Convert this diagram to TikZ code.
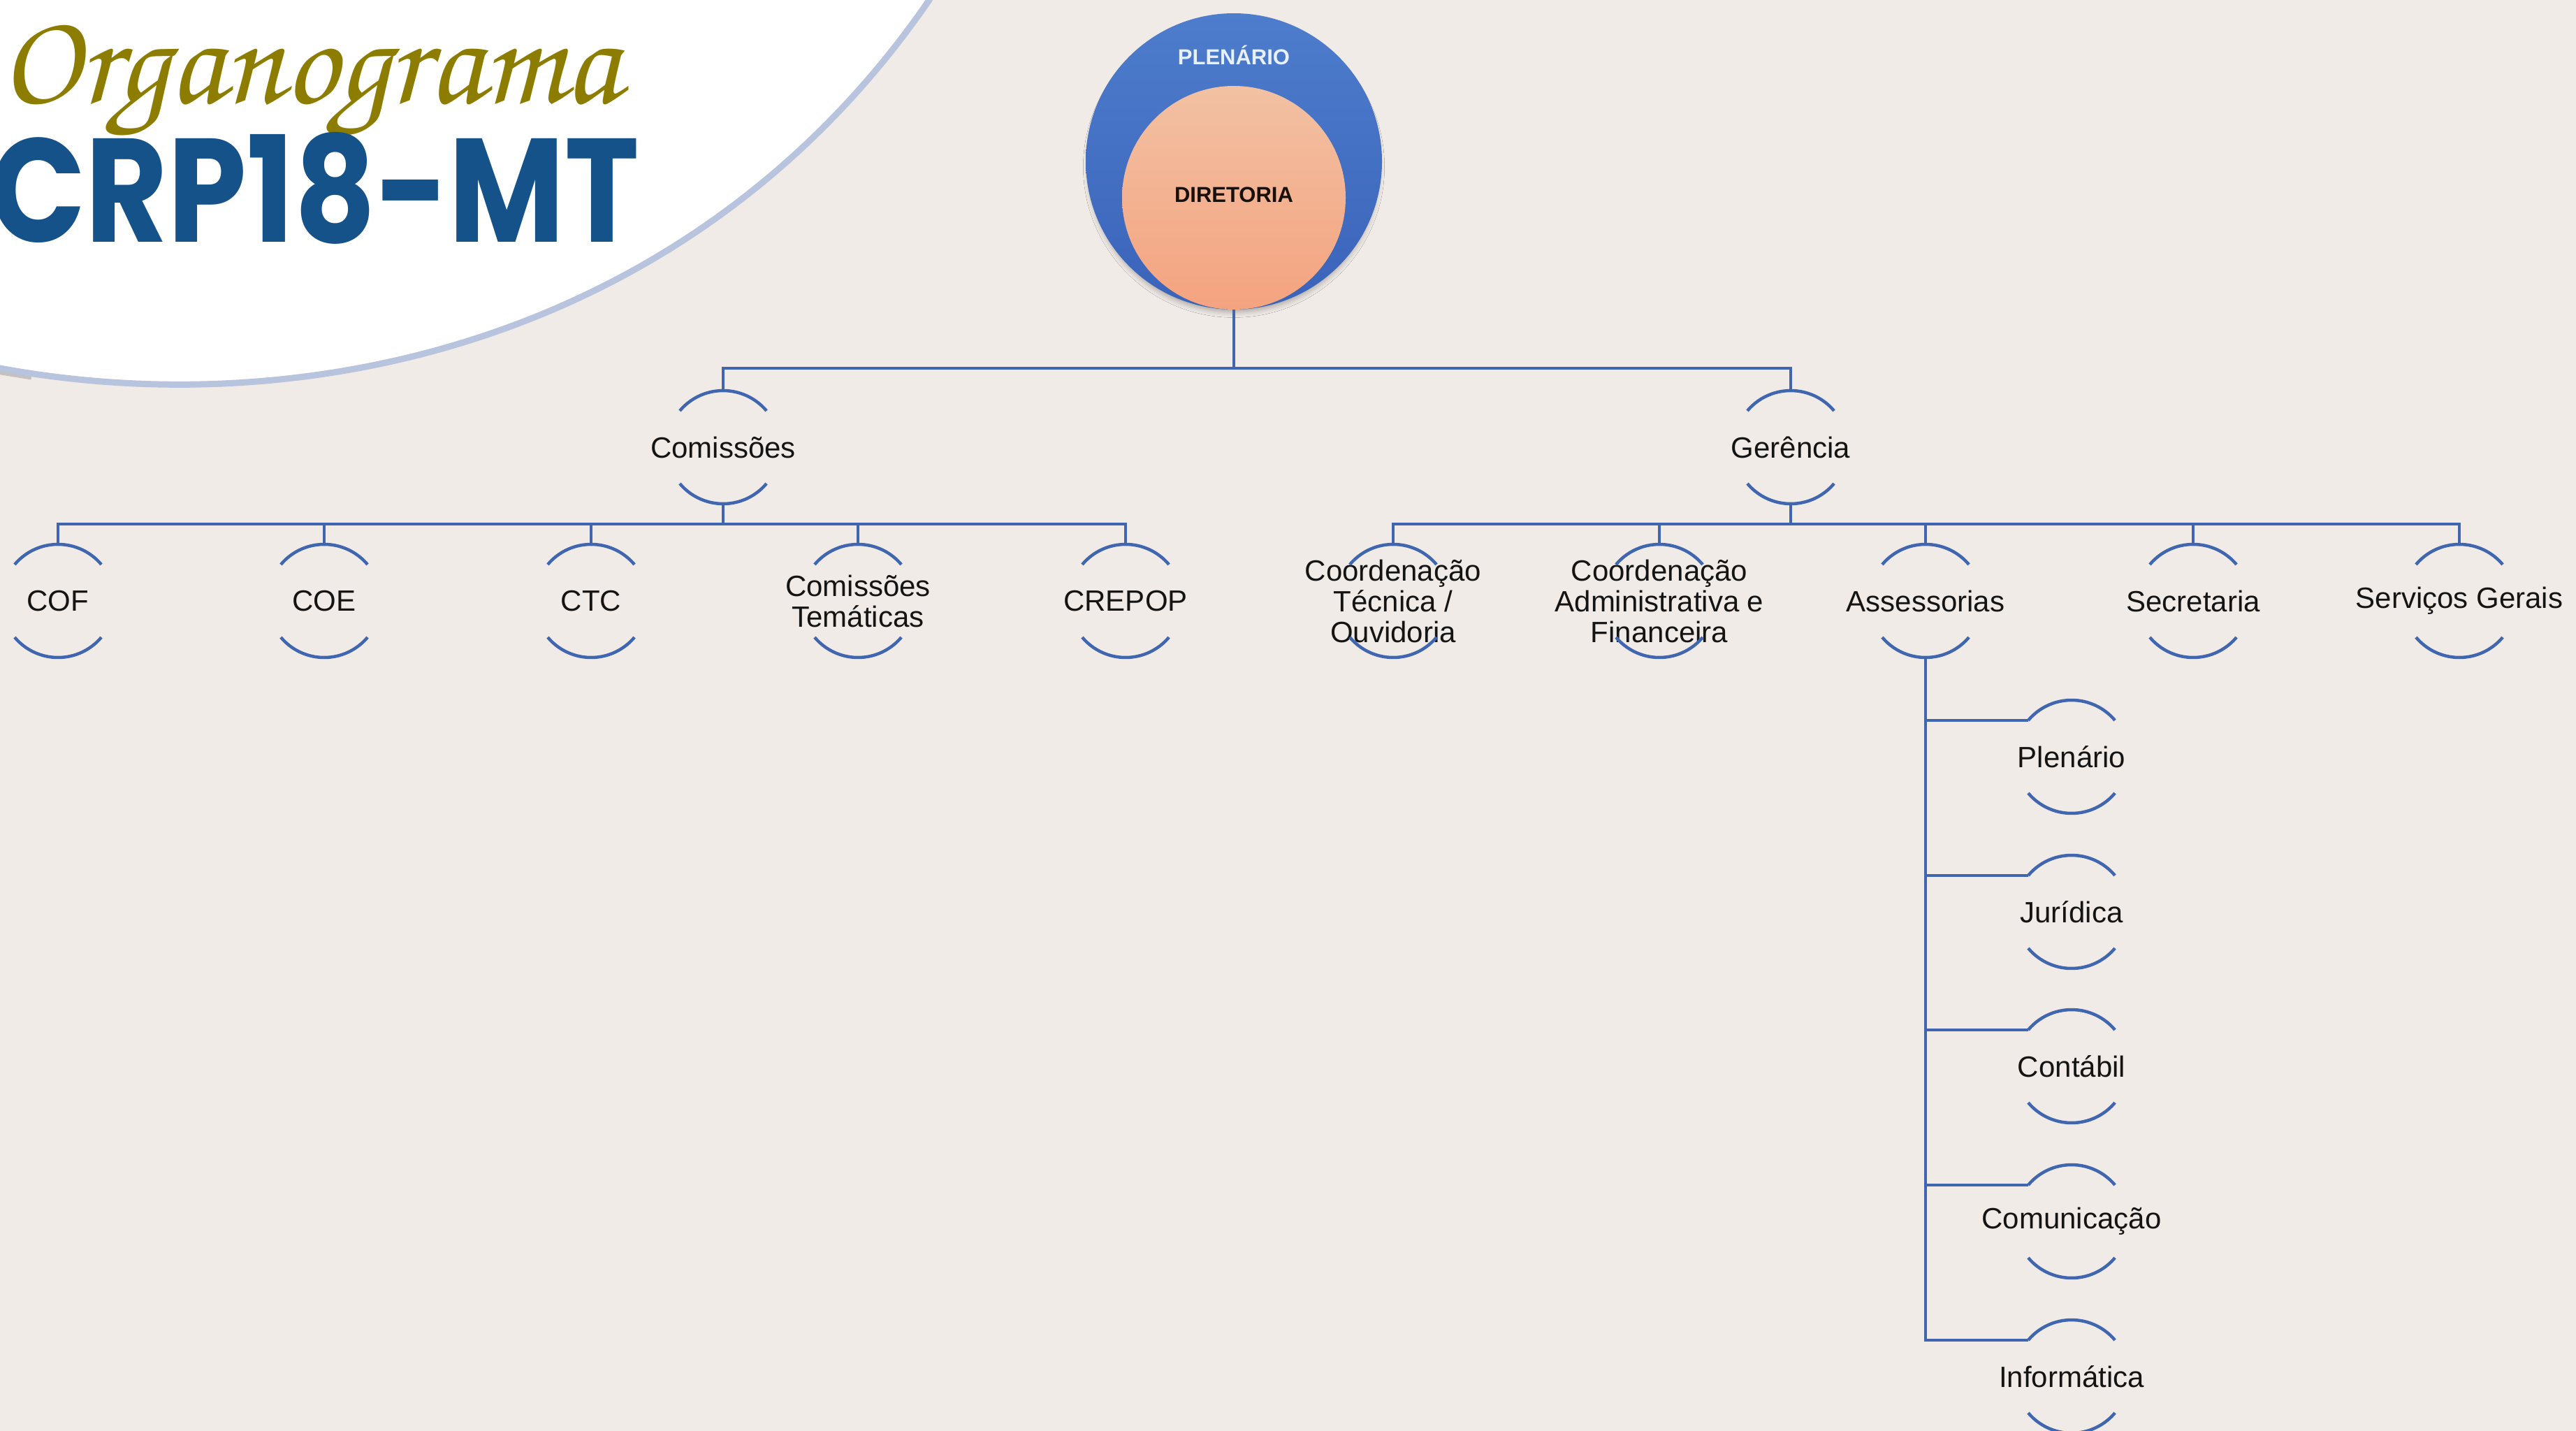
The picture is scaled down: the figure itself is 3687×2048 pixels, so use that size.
\documentclass[tikz,border=0pt]{standalone}
\usepackage{graphicx}
\usepackage{fontspec}
\setmainfont{Liberation Sans}
\newfontfamily\orgfont{TeX Gyre Chorus}
\newfontfamily\crpfont{Poppins}
\usetikzlibrary{calc,shadows.blur}
\definecolor{bg}{HTML}{F0EBE7}
\definecolor{ln}{HTML}{4066B0}
\definecolor{edgec}{HTML}{B8C3DD}
\definecolor{olivec}{HTML}{8C7D00}
\definecolor{crpc}{HTML}{15528A}
\definecolor{plA}{HTML}{4E7DCC}
\definecolor{plB}{HTML}{3A63BA}
\definecolor{diA}{HTML}{F2C1A3}
\definecolor{diB}{HTML}{F4A37F}
\definecolor{plt}{HTML}{E8F0FC}
\definecolor{dit}{HTML}{1A100B}
\newcommand\orgnode[4]{%
  \node[ring] (#1) at (#2,-#3) {};
  \node[lbl] (#1t) at (#1) {#4};
  \draw[arcl] (#1.140) arc[start angle=140,end angle=40,radius=81pt];
  \draw[arcl] (#1.220) arc[start angle=220,end angle=320,radius=81pt];
}
\begin{document}
\begin{tikzpicture}[x=1pt,y=1pt,
  ring/.style={circle, minimum size=162pt, inner sep=0pt, outer sep=0pt},
  lbl/.style={font=\fontsize{42}{44}\selectfont, align=center, text=black!92, inner sep=0pt},
  conn/.style={draw=ln, line width=4pt},
  arcl/.style={draw=ln, line width=4.5pt}]
\useasboundingbox (0,0) rectangle (3687,-2048);
\fill[bg] (0,0) rectangle (3687,-2048);

% white title shape
\draw[gray!80, line width=7pt, opacity=0.5] (-10,-531) -- (45,-540);
\filldraw[fill=white, draw=edgec, line width=9pt]
  (-40,-520) -- (0,-527) .. controls (450,-610) and (1000,-480) .. (1330,0)
  -- (1345,30) -- (-40,30) -- cycle;

% titles
\node[anchor=base west, inner sep=0pt, text=olivec] (orgt) at (0,-147) {\resizebox{886pt}{!}{\orgfont Organograma}};
\node[anchor=base west, inner sep=0pt, text=crpc] (crpt) at (-15,-346) {\resizebox{930pt}{157pt}{\crpfont\bfseries CRP18-MT}};

% top circles
\node[circle, minimum size=424pt, inner sep=0pt, top color=plA, bottom color=plB,
  blur shadow={shadow xshift=0pt, shadow yshift=-8pt, shadow blur radius=8pt, shadow scale=0.98, shadow opacity=30}] (plen) at (1766,-231) {};
\node[circle, minimum size=320pt, inner sep=0pt, top color=diA, bottom color=diB] (dir) at (1766,-283) {};
\node[font=\bfseries\fontsize{31}{31}\selectfont, text=plt] (plent) at (1766,-79) {PLENÁRIO};
\node[font=\bfseries\fontsize{31}{31}\selectfont, text=dit] (dirt) at (1766,-279) {DIRETORIA};

% level 2
\orgnode{com}{1035}{640}{Comissões}
\orgnode{ger}{2563}{640}{Gerência}

% level 3
\orgnode{cof}{83}{860}{COF}
\orgnode{coe}{464}{860}{COE}
\orgnode{ctc}{846}{860}{CTC}
\orgnode{tem}{1228}{860}{Comissões\\Temáticas}
\orgnode{crepop}{1611}{860}{CREPOP}
\orgnode{cta}{1994}{860}{Coordenação\\Técnica /\\Ouvidoria}
\orgnode{cad}{2375}{860}{Coordenação\\Administrativa e\\Financeira}
\orgnode{ass}{2756}{860}{Assessorias}
\orgnode{sec}{3139}{860}{Secretaria}
\orgnode{sg}{3520}{860}{Serviços Gerais}

% assessorias children
\orgnode{ple}{2965}{1083}{Plenário}
\orgnode{jur}{2965}{1305}{Jurídica}
\orgnode{cont}{2965}{1526}{Contábil}
\orgnode{comu}{2965}{1748}{Comunicação}
\orgnode{inf}{2965}{1970}{Informática}

% connectors
\coordinate (tb) at (1766,-527);
\draw[conn] (dir.south) -- (tb);
\draw[conn] (com.north) |- (tb) -| (ger.north);
\coordinate (lb) at (1035,-750);
\draw[conn] (com.south) -- (lb);
\draw[conn] (cof.north) |- (lb) -| (crepop.north);
\foreach \n in {coe,ctc,tem} \draw[conn] (\n.north) -- (\n.north |- lb);
\coordinate (rb) at (2563,-750);
\draw[conn] (ger.south) -- (rb);
\draw[conn] (cta.north) |- (rb) -| (sg.north);
\foreach \n in {cad,ass,sec} \draw[conn] (\n.north) -- (\n.north |- rb);
\draw[conn] (ass.south) |- (inf.140);
\foreach \n in {ple,jur,cont,comu} \draw[conn] (ass.south |- \n.140) -- (\n.140);
\end{tikzpicture}
\end{document}
